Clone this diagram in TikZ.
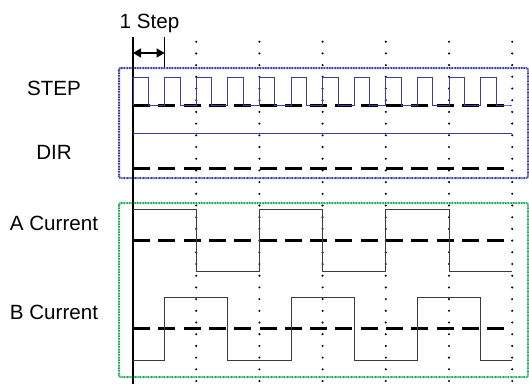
\documentclass[tikz,border=0pt]{standalone}
\usepackage{fontspec}
\setmainfont{Liberation Sans}
\usetikzlibrary{arrows.meta}
\definecolor{boxblue}{RGB}{55,60,160}
\definecolor{boxgreen}{RGB}{30,170,90}
\definecolor{sigblue}{RGB}{55,62,165}
\definecolor{siggray}{RGB}{60,60,60}
\begin{document}
\begin{tikzpicture}[x=1pt,y=-1pt,
  lbl/.style={font=\fontsize{20.6}{22}\selectfont, anchor=base, inner sep=0pt},
  grid/.style={line width=2.3pt, line cap=round, dash pattern=on 0pt off 11.7pt},
  base/.style={line width=3pt, dash pattern=on 17pt off 8.3pt},
  frame/.style={line width=2pt, dash pattern=on 1pt off 0.6pt, rounded corners=2pt},
  wave/.style={line width=0.9pt, siggray},
  swave/.style={line width=1pt, sigblue}]
\useasboundingbox (0,0) rectangle (529,384);
% dotted grid
\foreach \i/\x in {1/196.2,2/259.4,3/322.6,4/385.8,5/449,6/512.2}{
  \coordinate (gt\i) at (\x,41.7);
  \coordinate (gb\i) at (\x,381);
  \draw[grid] (gt\i) -- (gb\i);
}
% frames
\draw[frame, boxblue] (119,68) rectangle (528,178);
\draw[frame, boxgreen] (119,203) rectangle (528,377);
% main axis
\coordinate (axt) at (133,37);
\coordinate (axb) at (133,384);
\draw[line width=1.5pt] (axt) -- (axb);
\coordinate (stt) at (164.6,37);
\coordinate (stb) at (164.6,67);
\draw[line width=0.8pt] (stt) -- (stb);
\coordinate (arl) at (133,53);
\coordinate (arr) at (164.6,53);
\draw[line width=1.5pt, {Triangle[length=8pt,width=9pt]}-{Triangle[length=8pt,width=9pt]}] (arl) -- (arr);
\node[lbl] (steplen) at (149.5,28.3) {1 Step};
% labels
\node[lbl] (lstep) at (54,95) {STEP};
\node[lbl] (ldir) at (54,159) {DIR};
\node[lbl] (la) at (54,230) {A Current};
\node[lbl] (lb) at (54,319) {B Current};
% baselines
\foreach \n/\y in {bs/105,bd/168,ba/240,bb/328.5}{
  \coordinate (\n l) at (133,\y);
  \coordinate (\n r) at (504,\y);
  \draw[base] (\n l) -- (\n r);
}
% STEP waveform
\draw[swave] (133,105)
  \foreach \k in {0,...,11}{
    -- ({133+31.6*\k},77) -- ({148.5+31.6*\k},77) -- ({148.5+31.6*\k},105) -- ({164.6+31.6*\k},105)
  } -- (510,105);
% DIR
\coordinate (dirl) at (133,133);
\coordinate (dirr) at (512,133);
\draw[swave] (dirl) -- (dirr);
% A current
\draw[wave] (133,209) -- (196.2,209) -- (196.2,271) -- (259.4,271) -- (259.4,209)
  -- (322.6,209) -- (322.6,271) -- (385.8,271) -- (385.8,209) -- (449,209)
  -- (449,271) -- (512,271);
% B current
\draw[wave] (133,360.3) -- (164.6,360.3) -- (164.6,297.7) -- (227.8,297.7) -- (227.8,360.3)
  -- (291,360.3) -- (291,297.7) -- (354.2,297.7) -- (354.2,360.3) -- (417.4,360.3)
  -- (417.4,297.7) -- (480.6,297.7) -- (480.6,360.3) -- (512,360.3);
\end{tikzpicture}
\end{document}
